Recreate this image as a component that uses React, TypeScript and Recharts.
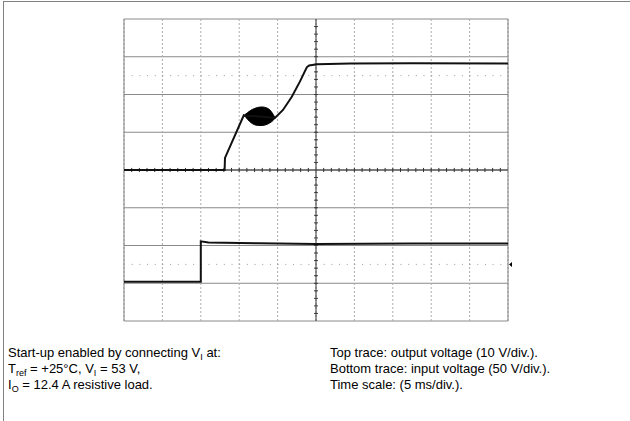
import React from 'react';
import {
  ComposedChart,
  Line,
  Area,
  XAxis,
  YAxis,
  CartesianGrid,
  ReferenceLine,
  ReferenceDot,
} from 'recharts';

// time axis in divisions (5 ms/div), voltage axis in divisions
const divTicksX = [0, 1, 2, 3, 4, 5, 6, 7, 8, 9, 10];
const divTicksY = [-4, -3, -2, -1, 0, 1, 2, 3, 4];
const minorTicksX = Array.from({ length: 49 }, (_, i) => (i + 1) * 0.2).filter((v) => Math.abs(v - 5) > 0.01);
const minorTicksY = Array.from({ length: 39 }, (_, i) => -3.8 + i * 0.2).filter((v) => Math.abs(v) > 0.01);
const markerLevels = [2.5, -2.5];

// top trace: output voltage
const topTime = [0, 2.62, 2.63, 3.12, 3.16, 3.55, 3.93, 4.14, 4.37, 4.58, 4.76, 4.82, 5.03, 5.9, 7.5, 10];
const topVolt = [0, 0, 0.32, 1.45, 1.44, 1.42, 1.38, 1.59, 1.94, 2.34, 2.72, 2.77, 2.8, 2.82, 2.83, 2.82];

// oscillation envelope on the top trace
const blobTime = [3.14, 3.22, 3.3, 3.4, 3.5, 3.6, 3.7, 3.8, 3.88, 3.93];
const blobLow = [1.44, 1.34, 1.26, 1.2, 1.18, 1.18, 1.2, 1.25, 1.31, 1.37];
const blobHigh = [1.46, 1.52, 1.58, 1.63, 1.66, 1.67, 1.65, 1.59, 1.48, 1.39];

// bottom trace: input voltage
const bottomTime = [0, 2.0, 2.0, 2.2, 3.5, 5, 7.5, 10];
const bottomVolt = [-2.96, -2.96, -1.89, -1.92, -1.94, -1.96, -1.95, -1.95];

const topData = topTime.map((t, i) => ({ t, v: topVolt[i] }));
const blobData = blobTime.map((t, i) => ({ t, r: [blobLow[i], blobHigh[i]] }));
const bottomData = bottomTime.map((t, i) => ({ t, v: bottomVolt[i] }));

const font = '"Liberation Sans", Arial, sans-serif';
const subStyle: React.CSSProperties = { fontSize: 9, position: 'relative', top: 3, lineHeight: 0 };

function Row({ top, left, children }: { top: number; left: number; children: React.ReactNode }) {
  return (
    <div style={{ position: 'absolute', top, left, fontFamily: font, fontSize: 13, lineHeight: '15px', color: '#000', whiteSpace: 'nowrap' }}>
      {children}
    </div>
  );
}

export default function App() {
  return (
    <div style={{ position: 'absolute', left: 0, top: 0, width: 630, height: 421, background: '#fff', overflow: 'hidden' }}>
      {/* page frame */}
      <div style={{ position: 'absolute', left: 3, top: 1, width: 640, height: 430, borderTop: '1px solid #808080', borderLeft: '1px solid #808080' }} />

      <ComposedChart width={630} height={421} margin={{ top: 19, right: 122, bottom: 100, left: 124 }}>
        <XAxis type="number" dataKey="t" domain={[0, 10]} ticks={divTicksX} hide allowDuplicatedCategory={false} />
        <YAxis type="number" domain={[-4, 4]} ticks={divTicksY} hide />
        <CartesianGrid vertical={false} stroke="#8a8a8a" strokeWidth={1} />
        <CartesianGrid horizontal={false} stroke="#ababab" strokeDasharray="2 2" strokeWidth={1} />
        <ReferenceLine x={0} stroke="#808080" />
        <ReferenceLine x={10} stroke="#808080" />

        {markerLevels.map((y) => (
          <ReferenceLine key={y} y={y} stroke="#9a9a9a" strokeDasharray="1 6.68" />
        ))}

        {/* centre axes with minor ticks */}
        <ReferenceLine x={5} stroke="#333" />
        <ReferenceLine y={0} stroke="#333" />
        {minorTicksX.map((x) => (
          <ReferenceLine key={'mx' + x} segment={[{ x, y: -0.055 }, { x, y: 0.055 }]} stroke="#333" />
        ))}
        {minorTicksY.map((y) => (
          <ReferenceLine key={'my' + y} segment={[{ x: 4.95, y }, { x: 5.05, y }]} stroke="#333" />
        ))}

        <Area data={blobData} dataKey="r" type="monotone" stroke="#000" strokeWidth={1} fill="#000" fillOpacity={1} isAnimationActive={false} dot={false} activeDot={false} />
        <Line data={topData} dataKey="v" type="linear" stroke="#111" strokeWidth={2} dot={false} activeDot={false} isAnimationActive={false} />
        <Line data={bottomData} dataKey="v" type="linear" stroke="#111" strokeWidth={2} dot={false} activeDot={false} isAnimationActive={false} />

        <ReferenceDot
          x={10}
          y={-2.5}
          r={3}
          ifOverflow="visible"
          shape={(p: any) => (
            <polygon points={`${p.cx + 1},${p.cy} ${p.cx + 4},${p.cy - 2.5} ${p.cx + 4},${p.cy + 2.5}`} fill="#000" />
          )}
        />
      </ComposedChart>

      <Row top={345} left={8}>
        Start-up enabled by connecting V<span style={subStyle}>I</span> at:
      </Row>
      <Row top={361} left={8}>
        T<span style={subStyle}>ref</span> = +25°C, V<span style={subStyle}>I</span> = 53 V,
      </Row>
      <Row top={377} left={8}>
        I<span style={subStyle}>O</span> = 12.4 A resistive load.
      </Row>

      <Row top={345} left={330}>Top trace: output voltage (10 V/div.).</Row>
      <Row top={361} left={330}>Bottom trace: input voltage (50 V/div.).</Row>
      <Row top={377} left={330}>Time scale: (5 ms/div.).</Row>
    </div>
  );
}
